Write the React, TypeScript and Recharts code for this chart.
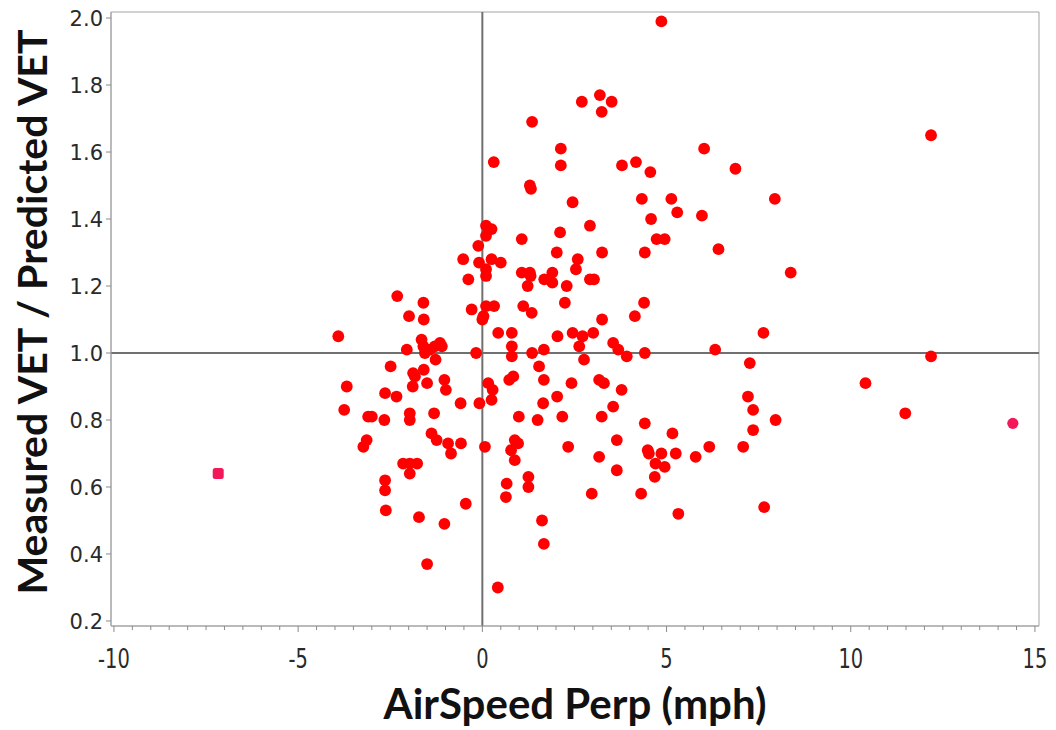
import React from 'react';
import {
  ScatterChart, Scatter, XAxis, YAxis, ReferenceLine, ReferenceArea, Label,
} from 'recharts';

// AirSpeed Perp (mph) values
const airspeedPerp: number[] = [
  4.86, 2.70, 3.19, 3.24, 3.51, 1.35, 12.18, 6.02, 2.13, 2.13,
  0.31, 3.79, 4.17, 4.56, 6.87, 1.29, 1.32, 4.33, 5.13, 7.94,
  2.45, 5.29, 5.96, 4.58, 0.10, 0.25, 0.10, 1.07, 2.11, 2.92,
  4.73, 4.95, -0.11, 6.41, 2.02, 3.25, 4.41, -0.52, -0.09, 0.25,
  0.50, 2.59, 2.54, 0.10, 0.10, 1.07, 1.29, 1.31, 1.68, 1.90,
  1.90, 2.29, 2.92, 3.03, -0.38, 1.23, 8.37, -2.31, -1.60, 4.39,
  4.14, 2.24, 0.10, 0.32, -0.29, 1.11, 1.34, -1.99, -1.59, 0.03,
  0.00, 3.25, -3.91, 0.43, 0.80, 2.04, 2.45, 2.72, 3.01, 3.55,
  3.69, 3.92, 4.41, 2.63, 2.76, 0.80, 0.80, 1.35, 1.67, -2.05,
  -1.65, -1.60, -1.42, -1.29, -1.15, -1.10, -1.56, -1.27, -0.17, 7.63,
  6.32, 7.26, 12.18, -2.49, -1.88, -1.83, -1.59, -1.50, -1.03, -0.99,
  -3.68, 0.16, 0.28, 0.73, 0.84, 1.54, 1.67, 2.42, 3.17, 3.30,
  3.78, -1.89, -2.64, -2.33, -0.59, -0.08, 0.25, 1.65, 2.03, 3.55,
  -3.75, -3.10, -3.00, -2.66, -1.97, -1.97, -1.31, 0.99, 1.50, 2.17,
  3.24, 4.41, -3.14, -3.23, -1.38, -1.24, -0.93, -0.58, -0.85, 0.07,
  0.88, 0.97, 0.78, 2.33, 3.65, 3.17, 4.49, -2.64, -2.64, -2.62,
  -2.15, -1.97, -1.77, -1.97, -1.72, -1.03, -1.50, -0.45, 0.66, 0.64,
  1.25, 1.25, 0.88, 1.62, 1.67, 0.42, 2.97, 4.31, 3.65, 10.40,
  7.21, 7.35, 7.96, 11.48, 5.16, 7.35, 4.52, 4.86, 5.25, 4.70,
  4.95, 4.68, 5.79, 6.16, 7.08, 5.32, 7.65,
];

// Measured VET / Predicted VET values (same order)
const vetRatio: number[] = [
  1.99, 1.75, 1.77, 1.72, 1.75, 1.69, 1.65, 1.61, 1.61, 1.56,
  1.57, 1.56, 1.57, 1.54, 1.55, 1.50, 1.49, 1.46, 1.46, 1.46,
  1.45, 1.42, 1.41, 1.40, 1.38, 1.37, 1.35, 1.34, 1.36, 1.38,
  1.34, 1.34, 1.32, 1.31, 1.30, 1.30, 1.30, 1.28, 1.27, 1.28,
  1.27, 1.28, 1.25, 1.25, 1.23, 1.24, 1.24, 1.23, 1.22, 1.24,
  1.21, 1.20, 1.22, 1.22, 1.22, 1.20, 1.24, 1.17, 1.15, 1.15,
  1.11, 1.15, 1.14, 1.14, 1.13, 1.14, 1.12, 1.11, 1.10, 1.11,
  1.10, 1.10, 1.05, 1.06, 1.06, 1.05, 1.06, 1.05, 1.06, 1.03,
  1.01, 0.99, 1.00, 1.02, 0.98, 1.02, 0.99, 1.00, 1.01, 1.01,
  1.04, 1.02, 1.01, 1.02, 1.03, 1.02, 1.00, 0.98, 1.00, 1.06,
  1.01, 0.97, 0.99, 0.96, 0.94, 0.93, 0.95, 0.91, 0.92, 0.89,
  0.90, 0.91, 0.89, 0.92, 0.93, 0.96, 0.92, 0.91, 0.92, 0.91,
  0.89, 0.90, 0.88, 0.87, 0.85, 0.85, 0.86, 0.85, 0.87, 0.84,
  0.83, 0.81, 0.81, 0.80, 0.82, 0.80, 0.82, 0.81, 0.80, 0.81,
  0.81, 0.79, 0.74, 0.72, 0.76, 0.74, 0.73, 0.73, 0.70, 0.72,
  0.74, 0.73, 0.71, 0.72, 0.74, 0.69, 0.71, 0.62, 0.59, 0.53,
  0.67, 0.67, 0.67, 0.64, 0.51, 0.49, 0.37, 0.55, 0.61, 0.57,
  0.63, 0.60, 0.68, 0.50, 0.43, 0.30, 0.58, 0.58, 0.65, 0.91,
  0.87, 0.83, 0.80, 0.82, 0.76, 0.77, 0.70, 0.70, 0.70, 0.67,
  0.66, 0.63, 0.69, 0.72, 0.72, 0.52, 0.54,
];

// Highlighted (pink) outlier rows
const outlierAirspeed: number[] = [-7.17, 14.40];
const outlierRatio: number[] = [0.64, 0.79];

const xMajorTicks: number[] = [-10, -5, 0, 5, 10, 15];
const yTicks: number[] = [0.2, 0.4, 0.6, 0.8, 1.0, 1.2, 1.4, 1.6, 1.8, 2.0];

const X_DOMAIN: [number, number] = [-10.08, 15.11];
const Y_DOMAIN: [number, number] = [0.185, 2.018];

const mainData = airspeedPerp.map((x, i) => ({ x, y: vetRatio[i] }));
const outlierData = outlierAirspeed.map((x, i) => ({ x, y: outlierRatio[i], idx: i }));

// minor ticks every 0.5 between major ticks
const xAllTicks: number[] = [];
for (let v = xMajorTicks[0] * 2; v <= xMajorTicks[xMajorTicks.length - 1] * 2; v++) xAllTicks.push(v / 2);

const XTick = (props: any) => {
  const { x, y, payload } = props;
  const v = payload.value as number;
  const major = Math.abs(v % 5) < 1e-6;
  return (
    <g>
      <line x1={x} x2={x} y1={y} y2={y + (major ? 6 : 4)} stroke="#8a8a8a" strokeWidth={1} />
      {major && (
        <text
          transform={`translate(${x},${y + 42}) scale(0.72,1)`}
          textAnchor="middle"
          fontSize={27}
          fontFamily="'DejaVu Sans', sans-serif"
          fill="#2a2a2a"
        >
          {v}
        </text>
      )}
    </g>
  );
};

const YTick = (props: any) => {
  const { x, y, payload } = props;
  const v = payload.value as number;
  return (
    <g>
      <line x1={x} x2={x - 5} y1={y} y2={y} stroke="#8a8a8a" strokeWidth={1} />
      <text
        x={x - 8}
        y={y}
        dy="0.36em"
        textAnchor="end"
        fontSize={21}
        fontFamily="'DejaVu Sans', sans-serif"
        fill="#2a2a2a"
      >
        {v.toFixed(1)}
      </text>
    </g>
  );
};

const RedDot = (props: any) => {
  const { cx, cy } = props;
  return <circle cx={cx} cy={cy} r={5.9} fill="#ff0000" />;
};

const PinkMark = (props: any) => {
  const { cx, cy, payload } = props;
  if (payload && payload.idx === 0) {
    return <rect x={cx - 5.5} y={cy - 5.5} width={11} height={11} rx={2.5} fill="#f2185a" />;
  }
  return <circle cx={cx} cy={cy} r={5.6} fill="#f2185a" />;
};

const titleFont = "Lato, 'Open Sans', sans-serif";

export default function App() {
  return (
    <div style={{ width: 1048, height: 722, background: '#ffffff' }}>
      <ScatterChart width={1048} height={722} margin={{ top: 4, right: 17, bottom: 0, left: 0 }}>
        <ReferenceArea
          x1={X_DOMAIN[0]}
          x2={X_DOMAIN[1]}
          y1={Y_DOMAIN[0]}
          y2={Y_DOMAIN[1]}
          fill="none"
          stroke="#a3a3a3"
          strokeWidth={1}
          ifOverflow="visible"
        />
        <XAxis
          type="number"
          dataKey="x"
          domain={X_DOMAIN}
          ticks={xAllTicks}
          interval={0}
          allowDataOverflow
          height={104}
          tickSize={0}
          tickMargin={0}
          tickLine={false}
          axisLine={{ stroke: '#a3a3a3' }}
          tick={<XTick />}
        >
          <Label
            content={(p: any) => {
              const vb = p.viewBox || { x: 103, y: 618, width: 928, height: 104 };
              return (
                <text
                  x={vb.x + vb.width / 2}
                  y={vb.y + 93}
                  textAnchor="middle"
                  fontSize={42}
                  fontWeight={700}
                  fontFamily={titleFont}
                  fill="#111"
                >
                  AirSpeed Perp (mph)
                </text>
              );
            }}
          />
        </XAxis>
        <YAxis
          type="number"
          dataKey="y"
          domain={Y_DOMAIN}
          ticks={yTicks}
          interval={0}
          allowDataOverflow
          width={103}
          tickSize={0}
          tickMargin={0}
          tickLine={false}
          axisLine={{ stroke: '#a3a3a3' }}
          tick={<YTick />}
        >
          <Label
            content={() => (
              <text
                x={0}
                y={0}
                transform="translate(39,304) rotate(-90)"
                textAnchor="middle"
                fontSize={41}
                fontWeight={700}
                fontFamily={titleFont}
                fill="#111"
              >
                Measured VET / Predicted VET
              </text>
            )}
          />
        </YAxis>
        <ReferenceLine x={0} stroke="#707070" strokeWidth={2} />
        <ReferenceLine y={1} stroke="#707070" strokeWidth={2} />
        <Scatter data={mainData} shape={<RedDot />} isAnimationActive={false} />
        <Scatter data={outlierData} shape={<PinkMark />} isAnimationActive={false} />
      </ScatterChart>
    </div>
  );
}
